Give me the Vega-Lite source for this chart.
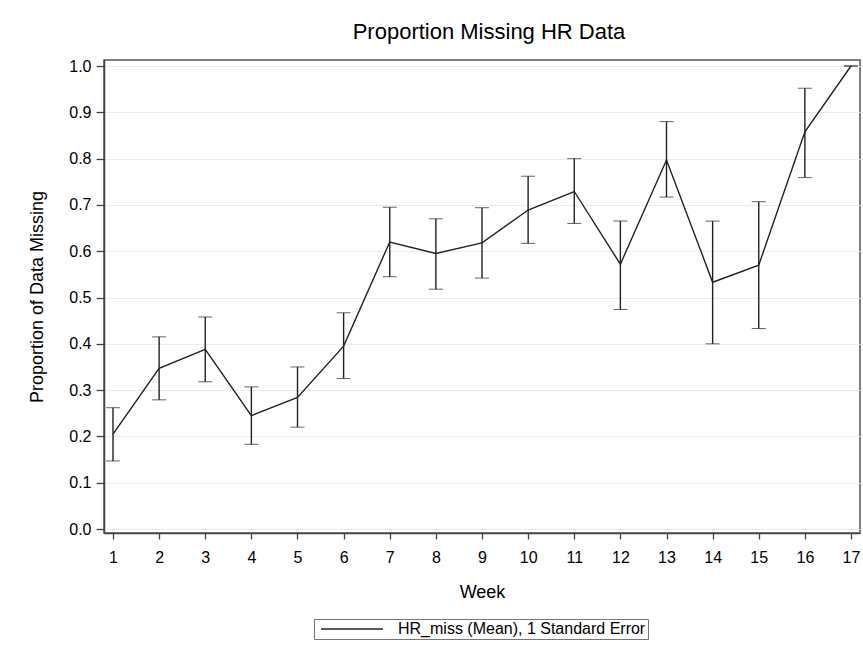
{
  "$schema": "https://vega.github.io/schema/vega-lite/v6.json",
  "autosize": {"type": "none"},
  "width": 756,
  "height": 473,
  "padding": {"left": 104, "top": 60, "right": 3, "bottom": 121},
  "background": "white",
  "title": {"text": "Proportion Missing HR Data", "font": "Liberation Sans", "fontSize": 22, "fontWeight": "normal", "color": "#000", "offset": 14, "anchor": "middle", "dx": 7},
  "config": {
    "view": {"stroke": "#555", "strokeWidth": 1.5},
    "axis": {"labelFont": "Liberation Sans", "titleFont": "Liberation Sans", "labelFontSize": 16, "titleFontSize": 18, "titleFontWeight": "normal", "labelColor": "#000", "titleColor": "#000", "domainColor": "#444", "domainWidth": 1.5, "tickColor": "#444", "tickWidth": 1.3, "gridColor": "#ececec", "gridWidth": 1.2}
  },
  "data": {"values": [
    {"week": 1, "mean": 0.205, "lower": 0.147, "upper": 0.262, "series": "HR_miss (Mean), 1 Standard Error"},
    {"week": 2, "mean": 0.347, "lower": 0.279, "upper": 0.415, "series": "HR_miss (Mean), 1 Standard Error"},
    {"week": 3, "mean": 0.388, "lower": 0.318, "upper": 0.458, "series": "HR_miss (Mean), 1 Standard Error"},
    {"week": 4, "mean": 0.245, "lower": 0.183, "upper": 0.307, "series": "HR_miss (Mean), 1 Standard Error"},
    {"week": 5, "mean": 0.284, "lower": 0.220, "upper": 0.350, "series": "HR_miss (Mean), 1 Standard Error"},
    {"week": 6, "mean": 0.395, "lower": 0.325, "upper": 0.467, "series": "HR_miss (Mean), 1 Standard Error"},
    {"week": 7, "mean": 0.620, "lower": 0.545, "upper": 0.695, "series": "HR_miss (Mean), 1 Standard Error"},
    {"week": 8, "mean": 0.595, "lower": 0.518, "upper": 0.670, "series": "HR_miss (Mean), 1 Standard Error"},
    {"week": 9, "mean": 0.618, "lower": 0.542, "upper": 0.694, "series": "HR_miss (Mean), 1 Standard Error"},
    {"week": 10, "mean": 0.689, "lower": 0.617, "upper": 0.762, "series": "HR_miss (Mean), 1 Standard Error"},
    {"week": 11, "mean": 0.729, "lower": 0.660, "upper": 0.800, "series": "HR_miss (Mean), 1 Standard Error"},
    {"week": 12, "mean": 0.572, "lower": 0.474, "upper": 0.665, "series": "HR_miss (Mean), 1 Standard Error"},
    {"week": 13, "mean": 0.797, "lower": 0.717, "upper": 0.880, "series": "HR_miss (Mean), 1 Standard Error"},
    {"week": 14, "mean": 0.533, "lower": 0.400, "upper": 0.665, "series": "HR_miss (Mean), 1 Standard Error"},
    {"week": 15, "mean": 0.570, "lower": 0.433, "upper": 0.707, "series": "HR_miss (Mean), 1 Standard Error"},
    {"week": 16, "mean": 0.858, "lower": 0.759, "upper": 0.952, "series": "HR_miss (Mean), 1 Standard Error"},
    {"week": 17, "mean": 1.0, "lower": 1.0, "upper": 1.0, "series": "HR_miss (Mean), 1 Standard Error"}
  ]},
  "encoding": {
    "x": {"field": "week", "type": "quantitative", "scale": {"domain": [0.805, 17.195], "nice": false, "zero": false},
      "axis": {"title": "Week", "values": [1,2,3,4,5,6,7,8,9,10,11,12,13,14,15,16,17], "grid": false, "tickSize": 6, "labelPadding": 10, "titlePadding": 18, "labelFlush": false}}
  },
  "layer": [
    {
      "mark": {"type": "errorbar", "ticks": {"size": 14, "color": "#222", "strokeWidth": 1.4}, "rule": {"color": "#222", "strokeWidth": 1.4}},
      "encoding": {
        "y": {"field": "lower", "type": "quantitative", "scale": {"domain": [-0.0086, 1.013], "nice": false, "zero": false},
          "axis": {"title": "Proportion of Data Missing", "values": [0,0.1,0.2,0.3,0.4,0.5,0.6,0.7,0.8,0.9,1.0], "format": ".1f", "grid": true, "tickSize": 8, "labelPadding": 5, "titlePadding": 22}},
        "y2": {"field": "upper"}
      }
    },
    {
      "mark": {"type": "line", "strokeWidth": 1.4},
      "encoding": {
        "y": {"field": "mean", "type": "quantitative"},
        "color": {"field": "series", "type": "nominal", "scale": {"range": ["#222"]},
          "legend": {"title": null, "orient": "none", "legendX": 210, "legendY": 559, "direction": "horizontal", "symbolType": "M-0.43,0H8.43", "symbolSize": 196, "symbolStrokeWidth": 1.5, "symbolStrokeColor": "#555", "labelFont": "Liberation Sans", "labelFontSize": 16, "labelColor": "#000", "labelLimit": 400, "strokeColor": "#777", "fillColor": "white", "padding": 2, "labelOffset": 66}}
      }
    }
  ]
}
